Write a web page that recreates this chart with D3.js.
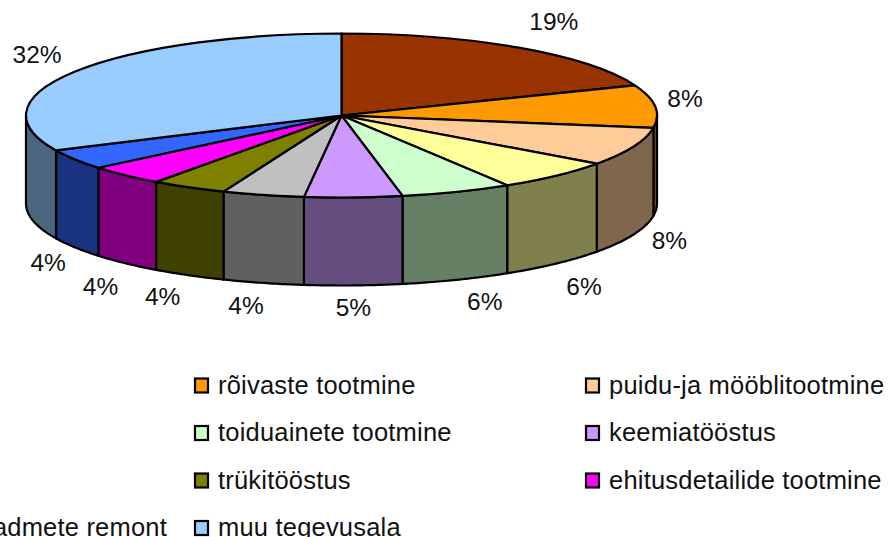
<!DOCTYPE html>
<html>
<head>
<meta charset="utf-8">
<script src="https://d3js.org/d3.v7.min.js"></script>
<style>
    html, body { margin: 0; padding: 0; background: #fff; overflow: hidden; }
    text { font-family: "Liberation Sans", Arial, sans-serif; fill: #111; }
</style>
</head>
<body>
<svg id="chart" width="889" height="537"></svg>
<script>
// values, slices go clockwise from 12 o'clock
const shares = [19, 8.4, 7.6, 6.2, 5.7, 5, 4.2, 3.9, 4, 4, 32];
const shareLabels = ['19%', '8%', '8%', '6%', '6%', '5%', '4%', '4%', '4%', '4%', '32%'];
const topColors = ['#993300', '#FF9900', '#FFCC99', '#FFFF99', '#CCFFCC', '#CC99FF', '#C0C0C0', '#808000', '#FF00FF', '#3366FF', '#99CCFF'];
const sideColors = ['#4D1A00', '#804D00', '#7F674D', '#80804D', '#668066', '#664D80', '#606060', '#404000', '#800080', '#1A3380', '#4D6680'];

const legendNames = ['rõivaste tootmine', 'puidu-ja mööblitootmine', 'toiduainete tootmine', 'keemiatööstus', 'trükitööstus', 'ehitusdetailide tootmine', 'muu tegevusala'];
const legendColors = ['#FF9900', '#FFCC99', '#CCFFCC', '#CC99FF', '#808000', '#FF00FF', '#99CCFF'];
const legendCols = [0, 1, 0, 1, 0, 1, 0];
const legendRows = [0, 0, 1, 1, 2, 2, 3];
const clippedLegendName = 'seadmete remont'; // left column runs off the page

// label nudges away from the rim point of each slice
const labelNudgeX = [35, 30, 36, 28, 28, 0, -17, -26, -25, -27, -38];
const labelNudgeY = [-24, -6, 8, 25, 24, 24, 25, 23, 25, 17, -15];

const cx = 341.5, cy = 115.5, rx = 315.5, ry = 82, depth = 88;

const svg = d3.select('#chart');
const slices = d3.pie().sort(null).value(d => d)(shares);

const px = a => cx + rx * Math.sin(a);
const py = a => cy - ry * Math.cos(a);

// side walls first, only the front half of the rim shows
const rim = d3.line().x(d => d[0]).y(d => d[1]);
const wallPath = function(s) {
    let a0 = Math.max(s.startAngle, Math.PI / 2);
    let a1 = Math.min(s.endAngle, 3 * Math.PI / 2);
    if (a1 <= a0) return null;
    let angles = d3.range(a0, a1, 0.01).concat([a1]);
    let top = angles.map(a => [px(a), py(a)]);
    let bottom = angles.slice().reverse().map(a => [px(a), py(a) + depth]);
    return rim(top.concat(bottom)) + 'Z';
};

svg.append('g').selectAll('path')
    .data(slices)
    .join('path')
    .attr('d', wallPath)
    .attr('fill', (d, i) => sideColors[i])
    .attr('stroke', '#000')
    .attr('stroke-width', 2.2)
    .attr('stroke-linejoin', 'round');

// top face is a flat pie squashed into an ellipse
const arc = d3.arc().innerRadius(0).outerRadius(rx);
svg.append('g')
    .attr('transform', `translate(${cx},${cy}) scale(1,${ry / rx})`)
    .selectAll('path')
    .data(slices)
    .join('path')
    .attr('d', arc)
    .attr('fill', (d, i) => topColors[i])
    .attr('stroke', '#000')
    .attr('stroke-width', 2.2)
    .attr('stroke-linejoin', 'round')
    .attr('vector-effect', 'non-scaling-stroke');

// percent labels
svg.append('g').selectAll('text')
    .data(slices)
    .join('text')
    .attr('x', (d, i) => px((d.startAngle + d.endAngle) / 2) + labelNudgeX[i])
    .attr('y', (d, i) => {
        let a = (d.startAngle + d.endAngle) / 2;
        let wall = (a > Math.PI / 2 && a < 3 * Math.PI / 2) ? depth : 0;
        return py(a) + wall + labelNudgeY[i];
    })
    .attr('text-anchor', 'middle')
    .attr('dominant-baseline', 'middle')
    .attr('font-size', 24.5)
    .text((d, i) => shareLabels[i]);

// legend
const colX = d3.scaleOrdinal().domain([0, 1]).range([194, 585]);
const rowY = d3.scalePoint().domain([0, 1, 2, 3]).range([385.5, 528]);

const items = svg.append('g').selectAll('g')
    .data(legendNames)
    .join('g')
    .attr('transform', (d, i) => `translate(${colX(legendCols[i])},${rowY(legendRows[i])})`);

items.append('rect')
    .attr('x', 1)
    .attr('y', -7)
    .attr('width', 13)
    .attr('height', 14)
    .attr('fill', (d, i) => legendColors[i])
    .attr('stroke', '#000')
    .attr('stroke-width', 2.2);

items.append('text')
    .attr('x', 24)
    .attr('y', 8)
    .attr('font-size', 25.5)
    .attr('letter-spacing', 0.2)
    .text(d => d);

svg.append('text')
    .attr('x', 167)
    .attr('y', rowY(3) + 8)
    .attr('text-anchor', 'end')
    .attr('font-size', 25.5)
    .attr('letter-spacing', 0.2)
    .text(clippedLegendName);
</script>
</body>
</html>
